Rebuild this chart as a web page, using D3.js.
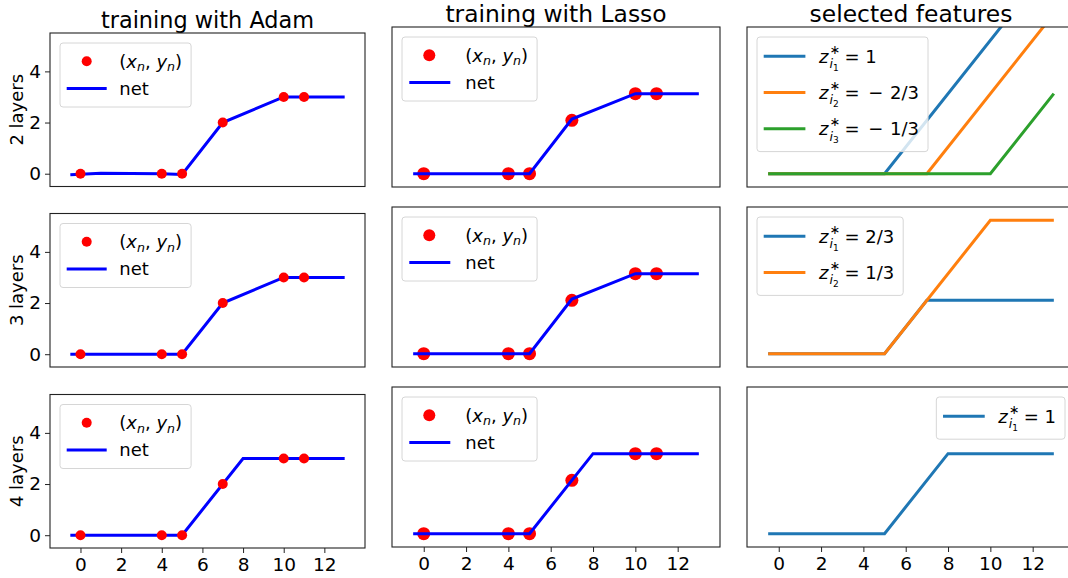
<!DOCTYPE html>
<html>
<head>
<meta charset="utf-8">
<script src="https://cdn.jsdelivr.net/npm/d3@7"></script>
<style>
body { margin: 0; background: #fff; }
text { font-family: "DejaVu Sans", sans-serif; fill: #000; }
</style>
</head>
<body>
<svg id="chart" width="1068" height="578"></svg>
<script>
// training points (x_n, y_n)
var dataX = [0, 4, 5, 7, 10, 11];
var dataY = [0, 0, 0, 2, 3, 3];

// network output knots, one list per row (2, 3, 4 layers)
var adamX = [[-0.5, 1, 4, 5, 7, 10, 13], [-0.5, 5, 7, 10, 13], [-0.5, 5, 8, 13]];
var adamY = [[-0.04, 0.02, 0, -0.03, 2, 3, 3], [0, 0, 2, 3, 3], [0, 0, 3, 3]];
var lassoX = [[-0.5, 5, 7, 10, 13], [-0.5, 5, 7, 10, 13], [-0.5, 5, 8, 13]];
var lassoY = [[0, 0, 2.05, 3, 3], [0, 0, 2.05, 3, 3], [0, 0, 3, 3]];

// selected features, one list per row
var featX = [
    [[-0.5, 5, 13], [-0.5, 7, 13], [-0.5, 10, 13]],
    [[-0.5, 5, 7, 13], [-0.5, 5, 10, 13]],
    [[-0.5, 5, 8, 13]]
];
var featY = [
    [[0, 0, 8], [0, 0, 6], [0, 0, 3]],
    [[0, 0, 2, 2], [0, 0, 5, 5]],
    [[0, 0, 3, 3]]
];
var featValues = [["1", "\u2212 2/3", "\u2212 1/3"], ["2/3", "1/3"], ["1"]];

var rowLabels = ["2 layers", "3 layers", "4 layers"];
var colTitles = ["training with Adam", "training with Lasso", "selected features"];
var xTicks = [0, 2, 4, 6, 8, 10, 12];
var yTicks = [0, 2, 4];
var featColors = ["#1f77b4", "#ff7f0e", "#2ca02c"];

var xDomain = [-1.5, 14];
var yDomain = [-0.5, 5.5];

// panel geometry per column
var cols = [
    {x0: 50, x1: 365, tops: [33, 213.5, 394.5], h: 153.5, titleY: 28, titleFs: 22.4},
    {x0: 392, x1: 720, tops: [27, 207, 387], h: 160, titleY: 22, titleFs: 23.4},
    {x0: 747, x1: 1075, tops: [27, 207, 387], h: 160, titleY: 22, titleFs: 23.4}
];

var svg = d3.select("#chart");
var FS = 18;
var TICK_FS = 18.5;

// lay out a small piece of math text piece by piece
function mathText(g, x, y, parts) {
    var cx = x;
    parts.forEach(function(p) {
        var t = g.append("text")
            .attr("x", cx + (p.dx || 0))
            .attr("y", y + (p.dy || 0) * FS)
            .style("font-size", (p.s || 1) * FS + "px")
            .style("font-style", p.it ? "italic" : "normal")
            .style("white-space", "pre")
            .text(p.t);
        var w = t.node().getComputedTextLength();
        if (!p.stack) cx += w + (p.dx || 0);
    });
    return cx - x;
}

function pointsLabel(g, x, y) {
    return mathText(g, x, y, [
        {t: "("}, {t: "x", it: true}, {t: "n", it: true, s: 0.7, dy: 0.22},
        {t: ", "}, {t: "y", it: true}, {t: "n", it: true, s: 0.7, dy: 0.22}, {t: ")"}
    ]);
}

function featLabel(g, x, y, k, val) {
    var neg = val.charAt(0) === "\u2212";
    var parts = [
        {t: "z", it: true},
        {t: "\u2217", s: 0.7, dy: -0.5, dx: 1, stack: true},
        {t: "i", it: true, s: 0.7, dy: 0.3, dx: 1},
        {t: String(k), s: 0.5, dy: 0.45},
        {t: " = "}
    ];
    if (neg) {
        parts.push({t: "\u2212", dx: 3});
        parts.push({t: val.slice(1), dx: 1});
    } else {
        parts.push({t: val});
    }
    return mathText(g, x, y, parts);
}

function legendBox(g, bx, by, bw, bh) {
    g.insert("rect", ":first-child")
        .attr("x", bx).attr("y", by).attr("width", bw).attr("height", bh)
        .attr("rx", 3).attr("ry", 3)
        .attr("fill", "#fff").attr("fill-opacity", 0.8)
        .attr("stroke", "#d6d6d6").attr("stroke-width", 1);
}

cols.forEach(function(c, ci) {
    var x = d3.scaleLinear().domain(xDomain).range([c.x0, c.x1]);

    svg.append("text")
        .attr("x", (c.x0 + c.x1) / 2).attr("y", c.titleY)
        .attr("text-anchor", "middle")
        .style("font-size", c.titleFs + "px")
        .text(colTitles[ci]);

    c.tops.forEach(function(top, ri) {
        var y = d3.scaleLinear().domain(yDomain).range([top + c.h, top]);
        var clipId = "clip" + ci + ri;
        svg.append("clipPath").attr("id", clipId).append("rect")
            .attr("x", c.x0).attr("y", top).attr("width", c.x1 - c.x0).attr("height", c.h);

        var plot = svg.append("g").attr("clip-path", "url(#" + clipId + ")");
        var line = d3.line().x(d => x(d[0])).y(d => y(d[1]));

        if (ci < 2) {
            var kx = ci === 0 ? adamX[ri] : lassoX[ri];
            var ky = ci === 0 ? adamY[ri] : lassoY[ri];
            var r = ci === 0 ? 5 : 6.5;
            var pts = dataX.map((v, i) => [v, dataY[i]]);
            var drawDots = function() {
                plot.selectAll(null).data(pts).enter().append("circle")
                    .attr("cx", d => x(d[0])).attr("cy", d => y(d[1]))
                    .attr("r", r).attr("fill", "#ff0000");
            };
            var drawNet = function() {
                plot.append("path").datum(kx.map((v, i) => [v, ky[i]]))
                    .attr("d", line).attr("fill", "none")
                    .attr("stroke", "#0000ff").attr("stroke-width", 3);
            };
            if (ci === 0) { drawNet(); drawDots(); } else { drawDots(); drawNet(); }
        } else {
            featX[ri].forEach(function(fx, k) {
                plot.append("path").datum(fx.map((v, i) => [v, featY[ri][k][i]]))
                    .attr("d", line).attr("fill", "none")
                    .attr("stroke", featColors[k]).attr("stroke-width", 3);
            });
        }

        // spines
        svg.append("rect")
            .attr("x", c.x0).attr("y", top).attr("width", c.x1 - c.x0).attr("height", c.h)
            .attr("fill", "none").attr("stroke", "#222").attr("stroke-width", 1.1);

        // x axis on bottom row
        if (ri === 2) {
            var xa = svg.append("g").attr("transform", "translate(0," + (top + c.h) + ")")
                .call(d3.axisBottom(x).tickValues(xTicks).tickFormat(d3.format("d")).tickSize(5).tickPadding(5));
            xa.select(".domain").remove();
            xa.selectAll("line").attr("stroke", "#222");
            xa.selectAll("text").style("font-size", TICK_FS + "px").attr("fill", "#000")
                .style("font-family", "DejaVu Sans");
        }
        // y axis on first column
        if (ci === 0) {
            var ya = svg.append("g").attr("transform", "translate(" + c.x0 + ",0)")
                .call(d3.axisLeft(y).tickValues(yTicks).tickFormat(d3.format("d")).tickSize(5).tickPadding(4));
            ya.select(".domain").remove();
            ya.selectAll("line").attr("stroke", "#222");
            ya.selectAll("text").style("font-size", TICK_FS + "px").attr("fill", "#000")
                .style("font-family", "DejaVu Sans");
            svg.append("text")
                .attr("transform", "translate(23," + (top + c.h / 2) + ") rotate(-90)")
                .attr("text-anchor", "middle")
                .style("font-size", FS + "px")
                .text(rowLabels[ri]);
        }

        // legends
        var lg = svg.append("g");
        var by = top + 10, tw;
        if (ci < 2) {
            var bx = c.x0 + 10;
            var off = ci === 0 ? {dot: 26.7, l0: 6.7, l1: 46.7, tx: 59.3, r: 5} : {dot: 27.3, l0: 7.3, l1: 48.3, tx: 63.3, r: 6};
            lg.append("circle").attr("cx", bx + off.dot).attr("cy", by + 18.3)
                .attr("r", off.r).attr("fill", "#ff0000");
            tw = pointsLabel(lg, bx + off.tx, by + 24.5);
            lg.append("line").attr("x1", bx + off.l0).attr("x2", bx + off.l1)
                .attr("y1", by + 45.5).attr("y2", by + 45.5)
                .attr("stroke", "#0000ff").attr("stroke-width", 3);
            lg.append("text").attr("x", bx + off.tx).attr("y", by + 51.5)
                .style("font-size", FS + "px").text("net");
            legendBox(lg, bx, by, off.tx + tw + 9, 64);
        } else {
            var n = featX[ri].length;
            var texts = lg.append("g");
            var rowH = 36.2;
            var widths = [];
            var tmpX = ri === 2 ? 0 : c.x0 + 10;
            featValues[ri].forEach(function(v, k) {
                var ly = by + 19.3 + k * rowH;
                widths.push(featLabel(texts, tmpX + 62, ly + 6.5, k + 1, v));
            });
            var bw = 62 + d3.max(widths) + 9;
            var bx2 = ri === 2 ? c.x1 - 10 - bw : c.x0 + 10;
            texts.attr("transform", "translate(" + (bx2 - tmpX) + ",0)");
            featValues[ri].forEach(function(v, k) {
                var ly = by + 19.3 + k * rowH;
                lg.append("line").attr("x1", bx2 + 6.7).attr("x2", bx2 + 48.4)
                    .attr("y1", ly).attr("y2", ly)
                    .attr("stroke", featColors[k]).attr("stroke-width", 3);
            });
            legendBox(lg, bx2, by, bw, 6 + n * rowH);
        }
    });
});
</script>
</body>
</html>
